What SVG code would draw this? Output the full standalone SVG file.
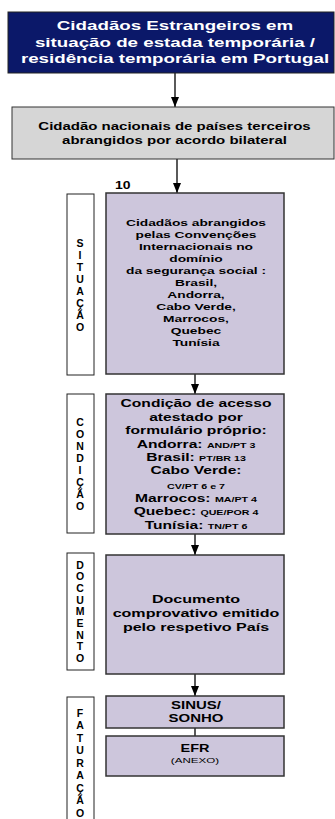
<svg xmlns="http://www.w3.org/2000/svg" width="335" height="819" viewBox="0 0 335 819">
<style>
.t{font-family:"Liberation Sans",Arial,sans-serif;font-weight:bold;fill:#000;text-anchor:middle}
.w{fill:#fff}
.n{font-weight:normal}
.pb{fill:#cdc6dc;stroke:#333;stroke-width:1.5}
.lb{fill:#fff;stroke:#222;stroke-width:1}
.lt{font-family:"Liberation Sans",Arial,sans-serif;font-weight:bold;font-size:10.5px;text-anchor:middle;fill:#000}
.c{stroke:#000;stroke-width:1.3;fill:none}
</style>
<defs>
<marker id="ah" markerUnits="userSpaceOnUse" markerWidth="10" markerHeight="8" refX="10" refY="4" orient="auto">
<path d="M0,0 L10,4 L0,8 Z" fill="#000"/>
</marker>
</defs>
<rect width="335" height="819" fill="#fff"/>
<g id="connectors">
<line class="c" x1="175" y1="73" x2="175" y2="107" marker-end="url(#ah)"/>
<line class="c" x1="177" y1="159" x2="177" y2="193" marker-end="url(#ah)"/>
<line class="c" x1="195" y1="374" x2="195" y2="394" marker-end="url(#ah)"/>
<line class="c" x1="195" y1="534" x2="195" y2="555" marker-end="url(#ah)"/>
<line class="c" x1="195" y1="674" x2="195" y2="696" marker-end="url(#ah)"/>
<line class="c" x1="195" y1="728" x2="195" y2="736"/>
</g>
<g id="top">
<rect x="8" y="12" width="326" height="61" fill="#0b1869" stroke="#222" stroke-width="1"/>
<g transform="translate(175,0) scale(1.5,1)">
<text class="t w" font-size="12.5"><tspan x="0" y="30.5">Cidadãos Estrangeiros em</tspan><tspan x="0" y="47">situação de estada temporária /</tspan><tspan x="0" y="63.5">residência temporária em Portugal</tspan></text>
</g>
</g>
<g id="bilateral">
<rect x="12" y="107" width="322" height="52" fill="#d6d6d6" stroke="#333" stroke-width="1"/>
<g transform="translate(174.5,0) scale(1.5,1)">
<text class="t" font-size="10"><tspan x="0" y="130.5">Cidadão nacionais de países terceiros</tspan><tspan x="0" y="144.5">abrangidos por acordo bilateral</tspan></text>
</g>
</g>
<g id="label10">
<text class="t" font-size="10" transform="translate(115,189) scale(1.4,1)" style="text-anchor:start">10</text>
</g>
<g id="situacao">
<rect class="lb" x="67" y="194" width="27" height="181"/>
<text class="lt" x="80" y="247">S</text>
<text class="lt" x="80" y="259">I</text>
<text class="lt" x="80" y="271">T</text>
<text class="lt" x="80" y="283">U</text>
<text class="lt" x="80" y="295">A</text>
<text class="lt" x="80" y="307">Ç</text>
<text class="lt" x="80" y="319">Ã</text>
<text class="lt" x="80" y="331">O</text>
</g>
<g id="box1">
<rect class="pb" x="106" y="193" width="178" height="181"/>
<g transform="translate(196,0) scale(1.45,1)">
<text class="t" font-size="9.5"><tspan x="0" y="226.5">Cidadãos abrangidos</tspan><tspan x="0" y="238.5">pelas  Convenções</tspan><tspan x="0" y="250.5">Internacionais no</tspan><tspan x="0" y="262.5">domínio</tspan><tspan x="0" y="274.5">da segurança social :</tspan><tspan x="0" y="286.5">Brasil,</tspan><tspan x="0" y="298.5">Andorra,</tspan><tspan x="0" y="310.5">Cabo Verde,</tspan><tspan x="0" y="322.5">Marrocos,</tspan><tspan x="0" y="334.5">Quebec</tspan><tspan x="0" y="346.5">Tunísia</tspan></text>
</g>
</g>
<g id="condicao">
<rect class="lb" x="67" y="394" width="27" height="139"/>
<text class="lt" x="80" y="426">C</text>
<text class="lt" x="80" y="438">O</text>
<text class="lt" x="80" y="450">N</text>
<text class="lt" x="80" y="462">D</text>
<text class="lt" x="80" y="474">I</text>
<text class="lt" x="80" y="486">Ç</text>
<text class="lt" x="80" y="498">Ã</text>
<text class="lt" x="80" y="510">O</text>
</g>
<g id="box2">
<rect class="pb" x="106" y="394" width="178" height="140"/>
<g transform="translate(196,0) scale(1.42,1)">
<text class="t" font-size="11"><tspan x="0" y="407">Condição de acesso</tspan><tspan x="0" y="421">atestado por</tspan><tspan x="0" y="434.5">formulário próprio:</tspan><tspan x="0" y="448">Andorra: <tspan font-size="7.5">AND/PT 3</tspan></tspan><tspan x="0" y="461">Brasil: <tspan font-size="7.5">PT/BR 13</tspan></tspan><tspan x="0" y="474.5">Cabo Verde:</tspan><tspan x="0" y="489" font-size="7.5">CV/PT 6 e 7</tspan><tspan x="0" y="502">Marrocos: <tspan font-size="7.5">MA/PT 4</tspan></tspan><tspan x="0" y="515.5">Quebec: <tspan font-size="7.5">QUE/POR 4</tspan></tspan><tspan x="0" y="529">Tunísia: <tspan font-size="7.5">TN/PT 6</tspan></tspan></text>
</g>
</g>
<g id="documento">
<rect class="lb" x="67" y="553" width="27" height="117"/>
<text class="lt" x="80" y="568.5">D</text>
<text class="lt" x="80" y="580.2">O</text>
<text class="lt" x="80" y="591.8">C</text>
<text class="lt" x="80" y="603.5">U</text>
<text class="lt" x="80" y="615.2">M</text>
<text class="lt" x="80" y="626.8">E</text>
<text class="lt" x="80" y="638.5">N</text>
<text class="lt" x="80" y="650.2">T</text>
<text class="lt" x="80" y="661.8">O</text>
</g>
<g id="box3">
<rect class="pb" x="106" y="555" width="178" height="119"/>
<g transform="translate(196,0) scale(1.46,1)">
<text class="t" font-size="11"><tspan x="0" y="603">Documento</tspan><tspan x="0" y="617">comprovativo emitido</tspan><tspan x="0" y="631">pelo respetivo País</tspan></text>
</g>
</g>
<g id="faturacao">
<rect class="lb" x="67" y="697" width="27" height="130"/>
<text class="lt" x="80" y="716.5">F</text>
<text class="lt" x="80" y="729">A</text>
<text class="lt" x="80" y="741.5">T</text>
<text class="lt" x="80" y="754">U</text>
<text class="lt" x="80" y="766.5">R</text>
<text class="lt" x="80" y="779">A</text>
<text class="lt" x="80" y="791.5">Ç</text>
<text class="lt" x="80" y="804">Ã</text>
<text class="lt" x="80" y="816.5">O</text>
</g>
<g id="sinus">
<rect class="pb" x="106" y="696" width="178" height="32"/>
<g transform="translate(196,0) scale(1.5,1)">
<text class="t" font-size="10"><tspan x="0" y="709.5">SINUS/</tspan><tspan x="0" y="722">SONHO</tspan></text>
</g>
</g>
<g id="efr">
<rect class="pb" x="106" y="736" width="178" height="40"/>
<g transform="translate(195,0) scale(1.45,1)">
<text class="t" font-size="10"><tspan x="0" y="752">EFR</tspan><tspan x="0" y="763" class="n" font-size="8">(ANEXO)</tspan></text>
</g>
</g>
</svg>
